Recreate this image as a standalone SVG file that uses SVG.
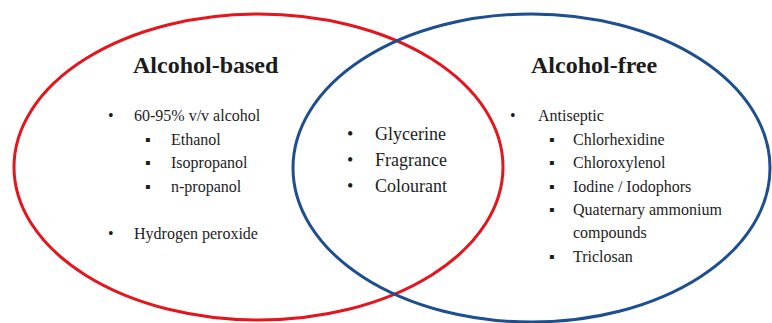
<svg xmlns="http://www.w3.org/2000/svg" width="772" height="323" viewBox="0 0 772 323">
<style>
text{font-family:"Liberation Serif","Times New Roman",serif;fill:#1c1c1c}
.h{font-size:24px;font-weight:bold}
.l{font-size:16px}
.m{font-size:18px}
.ring{fill:none;stroke-width:3}
</style>
<rect width="772" height="323" fill="#ffffff"/>
<g id="set-alcohol-based">
<ellipse class="ring" cx="258.5" cy="167" rx="244.5" ry="153" stroke="#e5141d"/>
</g>
<g id="set-alcohol-free">
<ellipse class="ring" cx="531.5" cy="168" rx="238.5" ry="154" stroke="#1d4e8f"/>
</g>
<g id="label-alcohol-based">
<text class="h" x="133" y="73">Alcohol-based</text>
<text class="l" x="108" y="121">•</text><text class="l" x="134" y="121">60-95% v/v alcohol</text>
<text class="l" x="145" y="145">▪</text><text class="l" x="171" y="145">Ethanol</text>
<text class="l" x="145" y="168">▪</text><text class="l" x="171" y="168">Isopropanol</text>
<text class="l" x="145" y="192">▪</text><text class="l" x="171" y="192">n-propanol</text>
<text class="l" x="108" y="239">•</text><text class="l" x="134" y="239">Hydrogen peroxide</text>
</g>
<g id="label-common">
<text class="m" x="347" y="140">•</text><text class="m" x="375" y="140">Glycerine</text>
<text class="m" x="347" y="166">•</text><text class="m" x="375" y="166">Fragrance</text>
<text class="m" x="347" y="192">•</text><text class="m" x="375" y="192">Colourant</text>
</g>
<g id="label-alcohol-free">
<text class="h" x="531" y="73">Alcohol-free</text>
<text class="l" x="510" y="121">•</text><text class="l" x="538" y="121">Antiseptic</text>
<text class="l" x="549" y="145">▪</text><text class="l" x="573" y="145">Chlorhexidine</text>
<text class="l" x="549" y="168">▪</text><text class="l" x="573" y="168">Chloroxylenol</text>
<text class="l" x="549" y="192">▪</text><text class="l" x="573" y="192">Iodine / Iodophors</text>
<text class="l" x="549" y="215">▪</text><text class="l" x="573" y="215">Quaternary ammonium</text>
<text class="l" x="573" y="238">compounds</text>
<text class="l" x="549" y="262">▪</text><text class="l" x="573" y="262">Triclosan</text>
</g>
</svg>
